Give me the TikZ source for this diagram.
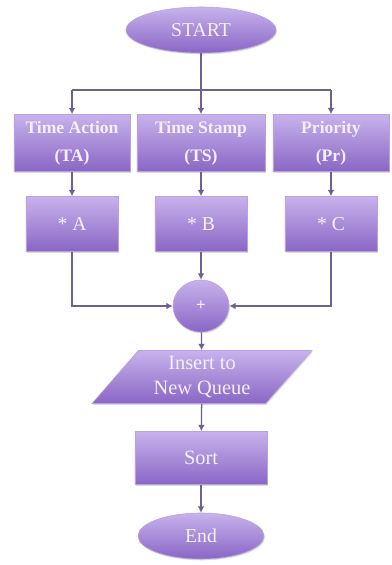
\documentclass[tikz,border=0pt]{standalone}
\usepackage{fontspec}
\setmainfont{Liberation Serif}
\usepackage{tikz}
\usetikzlibrary{arrows.meta,shapes.geometric,shadows,positioning}
\usepackage{xcolor}
\definecolor{lilactop}{HTML}{C8B2EC}
\definecolor{lilacbot}{HTML}{8966C5}
\definecolor{lilacedge}{HTML}{B9A2E2}
\definecolor{flowline}{HTML}{6F618F}
\definecolor{labeltext}{HTML}{F4EFFA}

\tikzset{
  block/.style={rectangle, top color=lilactop, bottom color=lilacbot, draw=lilacedge,
    thin, text=labeltext, align=center, inner sep=1pt,
    drop shadow={opacity=0.3, shadow xshift=0.6pt, shadow yshift=-0.9pt}},
  term/.style={block, ellipse, font=\fontsize{14}{17}\selectfont},
  field/.style={block, minimum height=1.425cm, font=\bfseries\fontsize{12.5}{20}\selectfont},
  mult/.style={block, minimum width=2.3cm, minimum height=1.375cm, font=\fontsize{14}{17}\selectfont},
  flow/.style={-{Latex[length=1.6mm,width=1.7mm]}, flowline, line width=0.9pt},
}

\begin{document}
\begin{tikzpicture}[x=0.025cm, y=-0.025cm]
  \useasboundingbox (0,0) rectangle (392,565);
  % start and the three fields
  \node[term, minimum width=3.75cm, minimum height=1.15cm] (start) at (201,30) {START};
  \coordinate (fork) at (201,90);
  \node[field, minimum width=2.9cm] (ta) at (72,143) {Time Action\\(TA)};
  \node[field, minimum width=3.2cm] (ts) at (201,143) {Time Stamp\\(TS)};
  \node[field, minimum width=2.9cm] (pr) at (331,143) {Priority\\(Pr)};
  % weights
  \node[mult] (ma) at (72,224) {* A};
  \node[mult] (mb) at (201,224) {* B};
  \node[mult] (mc) at (331,224) {* C};
  \node[block, ellipse, minimum width=1.4cm, minimum height=1.3cm,
    font=\bfseries\fontsize{12}{14}\selectfont] (sum) at (201,306) {+};
  % queue, sort and end
  \node[block, trapezium, trapezium left angle=51, trapezium right angle=129,
    trapezium stretches=true, minimum width=5.5cm, minimum height=1.325cm,
    font=\fontsize{14.5}{18}\selectfont] (queue) at (202,377) {Insert to\\New Queue};
  \node[block, minimum width=3.3cm, minimum height=1.325cm,
    font=\fontsize{14.5}{17}\selectfont] (sort) at (201,458) {Sort};
  \node[term, minimum width=3.15cm, minimum height=1.15cm] (finish) at (201,536) {End};

  \draw[flowline, line width=0.9pt] (fork -| ta) -- (fork -| pr);
  \draw[flow] (start) -- (ts);
  \draw[flow] (fork -| ta) -- (ta);
  \draw[flow] (fork -| pr) -- (pr);
  \draw[flow] (ta) -- (ma);
  \draw[flow] (ts) -- (mb);
  \draw[flow] (pr) -- (mc);
  \draw[flow] (ma) |- (sum);
  \draw[flow] (mb) -- (sum);
  \draw[flow] (mc) |- (sum);
  \draw[flow] (sum) -- (queue);
  \draw[flow] (queue) -- (sort);
  \draw[flow] (sort) -- (finish);
\end{tikzpicture}
\end{document}
